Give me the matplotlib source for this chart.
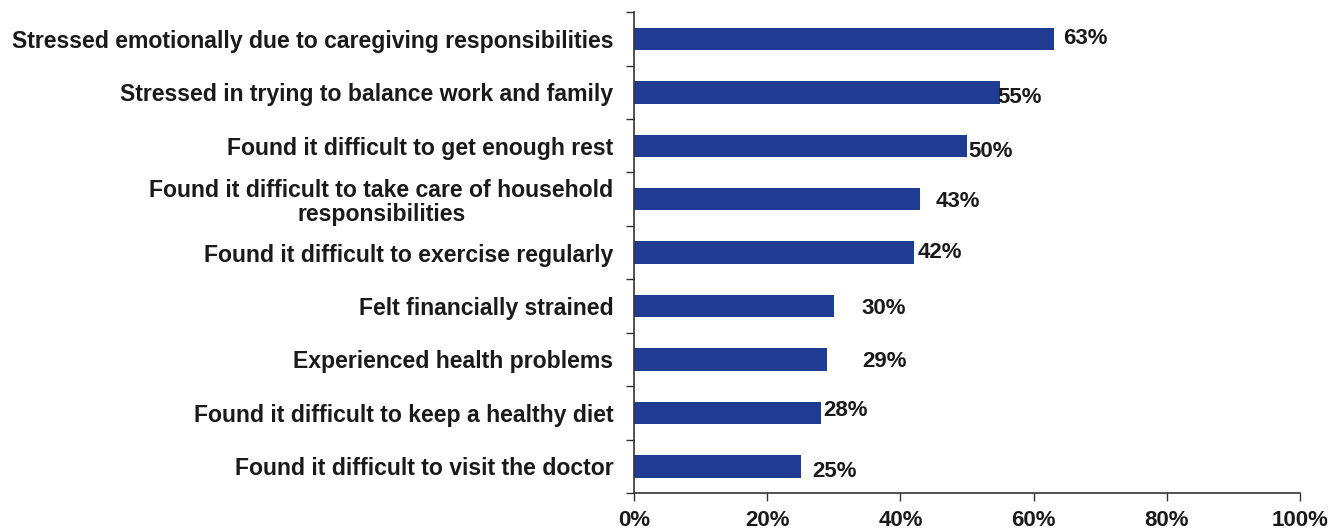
import numpy as np
import matplotlib.pyplot as plt
from matplotlib.ticker import FixedLocator, PercentFormatter

plt.rcParams['font.family'] = ['Liberation Sans', 'DejaVu Sans']
plt.rcParams['font.weight'] = 'bold'

items = [
    "Stressed emotionally due to caregiving responsibilities",
    "Stressed in trying to balance work and family",
    "Found it difficult to get enough rest",
    "Found it difficult to take care of household\nresponsibilities",
    "Found it difficult to exercise regularly",
    "Felt financially strained",
    "Experienced health problems",
    "Found it difficult to keep a healthy diet",
    "Found it difficult to visit the doctor",
]
pct = [63, 55, 50, 43, 42, 30, 29, 28, 25]

# hand-placed label nudges (x in % units, y in category units, +y = down)
lab_dx = [1.4, -0.4, 0.2, 2.3, 0.6, 4.2, 5.2, 0.4, 1.7]
lab_dy = [0.0, 0.1, 0.1, 0.04, 0.0, 0.04, 0.04, -0.04, 0.1]

bar_col = '#1f3c92'
txt_col = '#1a1a1a'

fig = plt.figure(figsize=(13.34, 5.29), dpi=100)
ax = fig.add_axes([0.4753, 0.068, 0.4992, 0.909])

y = np.arange(len(items))
ax.barh(y, pct, height=0.42, color=bar_col)
for yi, v, dx, dy in zip(y, pct, lab_dx, lab_dy):
    ax.text(v + dx, yi + dy, f"{v}%", va='center', ha='left',
            fontsize=16, color=txt_col)

ax.set_xlim(0, 100)
ax.set_ylim(len(items) - 0.5, -0.5)
ax.set_yticks(y)
ax.set_yticklabels(items, fontsize=16.6, color=txt_col, ha='right',
                   multialignment='center', linespacing=1.1)
ax.yaxis.set_minor_locator(FixedLocator(np.arange(-0.5, len(items), 1)))
ax.tick_params(axis='y', which='major', length=0, pad=15)
ax.tick_params(axis='y', which='minor', length=6, width=1, color='#333333')
ax.set_xticks(np.arange(0, 101, 20))
ax.xaxis.set_major_formatter(PercentFormatter(decimals=0))
ax.tick_params(axis='x', length=6, width=1, color='#333333', pad=6,
               labelsize=16, labelcolor=txt_col)

for s in ['top', 'right']:
    ax.spines[s].set_visible(False)
for s in ['left', 'bottom']:
    ax.spines[s].set_color('#333333')
    ax.spines[s].set_linewidth(1.2)

fig.savefig('out.png', dpi=100)
